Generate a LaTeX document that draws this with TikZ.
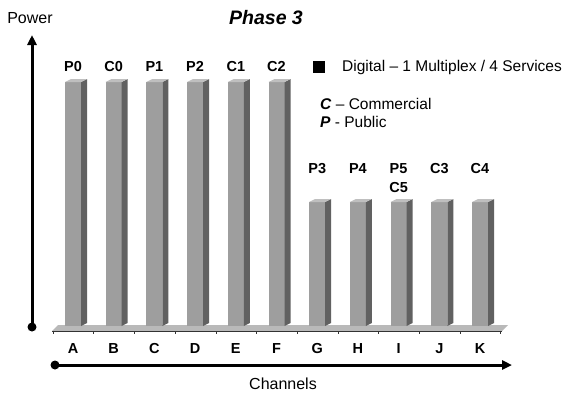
\documentclass[tikz,border=0pt]{standalone}
\usepackage{fontspec}
\setmainfont{Liberation Sans}
\usetikzlibrary{arrows.meta}
\definecolor{barfront}{gray}{0.62}
\definecolor{barside}{gray}{0.38}
\definecolor{bartop}{gray}{0.75}
\tikzset{
  lbl/.style={font=\bfseries\fontsize{14.5}{14.5}\selectfont, inner sep=0pt, anchor=base},
  txt/.style={font=\fontsize{15.5}{15.5}\selectfont, inner sep=0pt},
  axis/.style={line width=3pt, -{Triangle[length=10pt,width=9pt]}},
}
\newcommand{\mybar}[3]{% #1 = left x, #2 = top y, #3 = name
  \fill[barfront] (#1,#2) rectangle (#1+16,326);
  \fill[barside] (#1+16,#2) -- (#1+22,#2-3) -- (#1+22,323) -- (#1+16,326) -- cycle;
  \fill[bartop] (#1,#2) -- (#1+6,#2-3) -- (#1+22,#2-3) -- (#1+16,#2) -- cycle;
  \coordinate (#3) at (#1+8,#2);
}
\begin{document}
\begin{tikzpicture}[x=1pt,y=-1pt]
\useasboundingbox (0,0) rectangle (564,402);
% floor
\fill[gray!55] (52,331) -- (58,325) -- (508,325) -- (502,331) -- cycle;
\draw[gray!40!black, line width=0.6pt] (52,331) -- (502,331);
\foreach \i in {0,...,11} {
  \draw[gray!40!black, line width=0.6pt] (53+40.7*\i,331) -- (53+40.7*\i,334);
}
% bars
\foreach \i/\n in {0/A,1/B,2/C,3/D,4/E,5/F} {
  \mybar{65+40.7*\i}{82}{bar\n}
}
\foreach \i/\n in {6/G,7/H,8/I,9/J,10/K} {
  \mybar{65+40.7*\i}{202}{bar\n}
}
% channel letters
\foreach \i/\n in {0/A,1/B,2/C,3/D,4/E,5/F,6/G,7/H,8/I,9/J,10/K} {
  \node[lbl] (ch\n) at (73+40.7*\i,353) {\n};
}
% bar labels
\node[lbl] (lP0) at (73,71) {P0};
\node[lbl] (lC0) at (113.7,71) {C0};
\node[lbl] (lP1) at (154.4,71) {P1};
\node[lbl] (lP2) at (195.1,71) {P2};
\node[lbl] (lC1) at (235.8,71) {C1};
\node[lbl] (lC2) at (276.5,71) {C2};
\node[lbl] (lP3) at (317.2,173) {P3};
\node[lbl] (lP4) at (357.9,173) {P4};
\node[lbl] (lP5) at (398.6,173) {P5};
\node[lbl] (lC5) at (398.6,192) {C5};
\node[lbl] (lC3) at (439.3,173) {C3};
\node[lbl] (lC4) at (480,173) {C4};
% axes
\node[circle, fill=black, minimum size=9pt, inner sep=0pt] (vdot) at (32,327) {};
\coordinate (vtip) at (32,35);
\draw[axis] (vdot.center) -- (vtip);
\node[circle, fill=black, minimum size=9pt, inner sep=0pt] (hdot) at (55,365) {};
\coordinate (htip) at (512,365);
\draw[axis] (hdot.center) -- (htip);
\node[txt, font=\fontsize{16}{16}\selectfont] (power) at (30,18) {Power};
\node[txt, font=\fontsize{16}{16}\selectfont] (channels) at (283,384) {Channels};
% title
\node[inner sep=0pt, font=\bfseries\itshape\fontsize{19.5}{19.5}\selectfont] (title) at (266,18) {Phase 3};
% legend
\node[fill=black, minimum width=12pt, minimum height=12pt, inner sep=0pt] (sq) at (319,67) {};
\node[txt, anchor=west] (dig) at (342,67) {Digital – 1 Multiplex / 4 Services};
\node[txt, anchor=west] (legC) at (320,104) {\textbf{\textit{C}} – Commercial};
\node[txt, anchor=west] (legP) at (320,122) {\textbf{\textit{P}} - Public};
\end{tikzpicture}
\end{document}
